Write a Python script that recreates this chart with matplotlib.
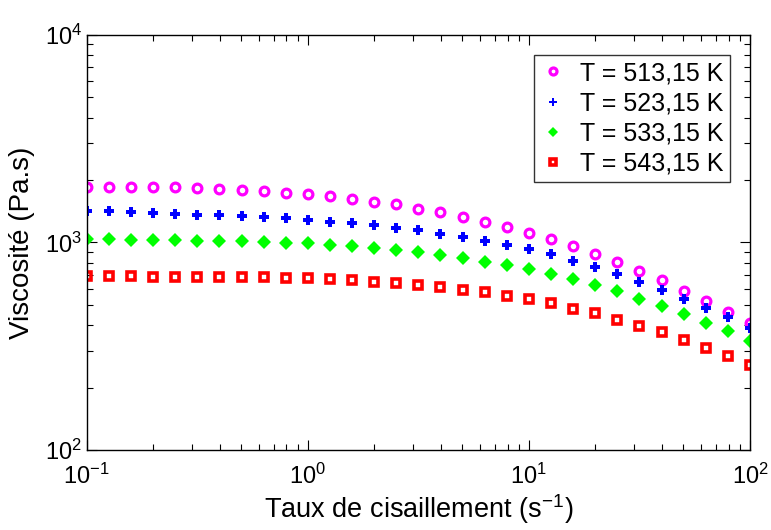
import numpy as np
import matplotlib
matplotlib.use('Agg')
import matplotlib.pyplot as plt

plt.rcParams['font.family'] = ['Liberation Sans', 'DejaVu Sans']
plt.rcParams['mathtext.fontset'] = 'custom'
plt.rcParams['mathtext.rm'] = 'Liberation Sans'
plt.rcParams['mathtext.it'] = 'Liberation Sans'

# shear rate, 10 points per decade from 0.1 to 100
shear = 10 ** (np.arange(31) / 10.0 - 1)

# viscosity (Pa.s)
visc_513 = [1858, 1858, 1858, 1845, 1845, 1825, 1811, 1791, 1771, 1738, 1707,
            1676, 1621, 1573, 1533, 1455, 1403, 1332, 1260, 1188, 1115, 1036,
            962, 880, 805, 726, 657, 586, 524, 464, 408]
visc_523 = [1423, 1414, 1398, 1388, 1373, 1361, 1352, 1337, 1322, 1308, 1283,
            1260, 1237, 1214, 1178, 1149, 1103, 1059, 1020, 969, 927, 880,
            814, 760, 705, 643, 590, 536, 483, 436, 387]
visc_533 = [1036, 1036, 1028, 1028, 1028, 1020, 1020, 1013, 1006, 998, 991,
            973, 962, 944, 920, 903, 871, 842, 808, 777, 743, 705,
            665, 624, 584, 534, 494, 452, 411, 375, 336]
visc_543 = [690, 690, 690, 684, 684, 684, 684, 680, 680, 672, 672,
            667, 660, 645, 636, 622, 610, 592, 575, 552, 532, 509,
            478, 456, 425, 396, 372, 339, 311, 283, 256]

labels = ['T = 513,15 K', 'T = 523,15 K', 'T = 533,15 K', 'T = 543,15 K']

fig = plt.figure(figsize=(7.71, 5.30), dpi=100)
ax = fig.add_axes([0.1125, 0.151, 0.8603, 0.783])

ax.plot(shear, visc_513, 'o', ls='none', mfc='none', mec='#ff00ff', ms=6.3, mew=2.3, label=labels[0])
ax.plot(shear, visc_523, 'P', ls='none', color='#0000ff', ms=7.8, mew=0, label=labels[1])
ax.plot(shear, visc_533, 'D', ls='none', color='#00ff00', ms=6.8, mew=0, label=labels[2])
ax.plot(shear, visc_543, 's', ls='none', mfc='none', mec='#ff0000', ms=5.8, mew=2.6, label=labels[3])

ax.set_xscale('log')
ax.set_yscale('log')
ax.set_xlim(0.1, 100)
ax.set_ylim(100, 10000)

ax.tick_params(which='both', direction='in', top=True, right=True, width=0.8)
ax.tick_params(which='major', length=7, labelsize=17)
ax.tick_params(which='minor', length=4)
ax.tick_params(axis='x', which='major', pad=10)
ax.tick_params(axis='y', which='major', pad=3.5)
for s in ax.spines.values():
    s.set_linewidth(1.0)

ax.set_xlabel('Taux de cisaillement (s$^{-1}$)', fontsize=19.5, labelpad=2)
ax.set_ylabel('Viscosité (Pa.s)', fontsize=20, labelpad=7)

leg = ax.legend(loc='upper right', fontsize=18, frameon=True, fancybox=False,
                edgecolor='black', handlelength=1.0, handletextpad=0.6,
                borderpad=0.25, labelspacing=0.25, borderaxespad=0.8,
                markerscale=0.8)
leg.get_frame().set_linewidth(1.0)

fig.savefig('out.png', dpi=100)
